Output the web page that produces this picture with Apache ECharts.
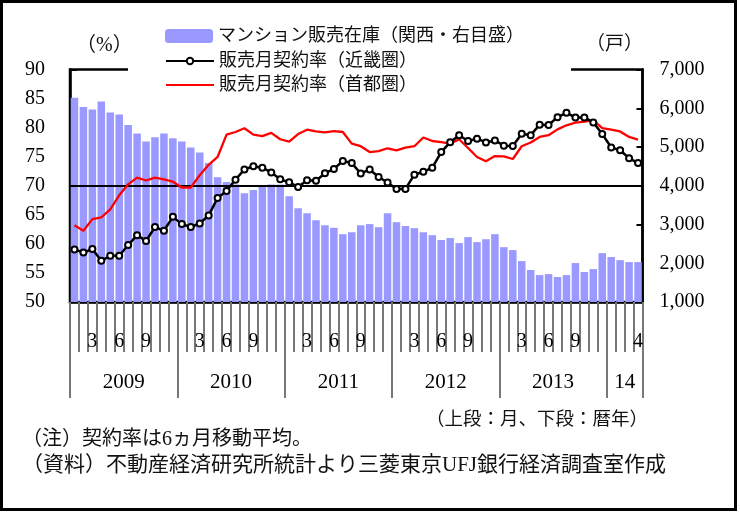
<!DOCTYPE html>
<html><head><meta charset="utf-8">
<script src="https://cdn.jsdelivr.net/npm/echarts@6/dist/echarts.min.js"></script>
<style>html,body{margin:0;padding:0;background:#fff}#c{width:740px;height:512px}</style>
</head><body><div id="c"></div>
<script>
const categories = [
 '2009/1','2009/2','2009/3','2009/4','2009/5','2009/6','2009/7','2009/8','2009/9','2009/10','2009/11','2009/12',
 '2010/1','2010/2','2010/3','2010/4','2010/5','2010/6','2010/7','2010/8','2010/9','2010/10','2010/11','2010/12',
 '2011/1','2011/2','2011/3','2011/4','2011/5','2011/6','2011/7','2011/8','2011/9','2011/10','2011/11','2011/12',
 '2012/1','2012/2','2012/3','2012/4','2012/5','2012/6','2012/7','2012/8','2012/9','2012/10','2012/11','2012/12',
 '2013/1','2013/2','2013/3','2013/4','2013/5','2013/6','2013/7','2013/8','2013/9','2013/10','2013/11','2013/12',
 '2014/1','2014/2','2014/3','2014/4'];
const monthTickLabels = ['3','6','9'];
const yearLabels = ['2009','2010','2011','2012','2013','14'];
const seriesNames = ['マンション販売在庫（関西・右目盛）','販売月契約率（近畿圏）','販売月契約率（首都圏）'];
const inventoryKansai = [
 6270,6030,5970,6175,5890,5840,5565,5350,5145,5250,5350,5225,
 5145,4990,4860,4590,4220,4100,4030,3805,3890,4020,4030,4030,
 3730,3420,3290,3110,2980,2915,2750,2800,2980,3010,2930,3290,
 3060,2960,2905,2800,2725,2600,2650,2520,2675,2545,2620,2750,
 2415,2340,2055,1825,1695,1720,1645,1695,2005,1775,1850,2260,
 2160,2080,2030,2030];
const rateKinki = [
 59.05,58.5,59.1,57.1,57.95,57.95,59.8,61.5,60.5,62.9,62.25,64.65,
 63.4,62.9,63.5,64.9,67.9,69.1,71.05,72.8,73.35,73.1,72.3,71.1,
 70.6,69.8,70.95,70.85,72.15,72.9,74.25,73.9,72.1,72.8,71.5,70.55,
 69.45,69.45,71.9,72.4,73.1,75.8,77.5,78.7,77.7,78.1,77.45,77.8,
 76.9,76.85,78.95,78.7,80.5,80.45,81.8,82.55,81.75,81.75,80.9,78.9,
 76.6,76.1,74.75,73.9];
const rateShutoken = [
 63.2,62.25,64.25,64.55,65.95,68.35,70.25,71.4,70.9,71.4,71.1,70.7,
 69.7,69.7,71.8,73.6,74.95,78.8,79.25,79.9,78.8,78.55,79.1,78.0,
 77.6,78.9,79.65,79.35,79.2,79.4,79.25,77.25,76.8,75.8,75.95,76.45,
 76.1,76.55,76.8,78.3,77.7,77.5,77.25,78.0,76.5,74.95,74.2,75.1,
 75.05,74.6,76.8,77.45,78.4,78.7,79.7,80.4,80.85,81.05,81.25,79.9,
 79.65,79.35,78.4,77.95];
const referenceLine = 70;
const unitLeft = '（%）';
const unitRight = '（戸）';
const noteRange = '（上段：月、下段：暦年）';
const note1 = '（注）契約率は6ヵ月移動平均。';
const note2 = '（資料）不動産経済研究所統計より三菱東京UFJ銀行経済調査室作成';

const FF = "'Liberation Serif','Noto Sans CJK JP',serif";
const chart = echarts.init(document.getElementById('c'), null, {renderer:'canvas'});
const lastIdx = categories.length - 1;
const lastYear = categories[lastIdx].split('/')[0];
function monthOf(c){ return c.split('/')[1]; }
function yearOf(c){ return c.split('/')[0]; }
function yearIdxLabel(i){
  const y = Math.floor(i/12);
  const yearStart = y*12;
  const yearEnd = Math.min(yearStart+11, lastIdx);
  const mid = Math.floor((yearStart+yearEnd)/2);
  return i === mid ? y : -1;
}
const legendText = {fontFamily:FF, fontSize:18, lineHeight:18, color:'#111'};
chart.setOption({
  animation:false,
  backgroundColor:'#fff',
  grid:{left:70, right:97.5, top:69.5, bottom:210, show:true, borderColor:'#000', borderWidth:2.5, backgroundColor:'transparent'},
  legend:[
    {data:[seriesNames[0]], orient:'vertical', left:128, top:21,
     padding:[6,46,6,37], itemWidth:48, itemHeight:14, itemTextGap:5,
     backgroundColor:'#fff', selectedMode:false, textStyle:legendText},
    {data:[seriesNames[1], {name:seriesNames[2], itemStyle:{opacity:0}}], orient:'vertical', left:128, top:51,
     padding:[1,154,1,37], itemWidth:48, itemHeight:8, itemGap:6, itemTextGap:5,
     backgroundColor:'#fff', selectedMode:false, textStyle:legendText}
  ],
  xAxis:[
    {type:'category', data:categories, boundaryGap:true, gridIndex:0, position:'bottom',
     axisLine:{show:true, lineStyle:{color:'#000', width:2.5}},
     axisTick:{show:true, interval:0, length:50, lineStyle:{color:'#777', width:2}},
     axisLabel:{interval:0, margin:30, fontFamily:FF, fontSize:20, color:'#000',
       formatter:function(v, i){
         const m = monthOf(v);
         if (yearOf(v) === lastYear) return i === lastIdx ? m : '';
         return monthTickLabels.indexOf(m) >= 0 ? m : '';
       }},
     splitLine:{show:false}},
    {type:'category', data:categories, boundaryGap:true, gridIndex:0, position:'bottom',
     axisLine:{show:false},
     axisTick:{show:true, length:96, lineStyle:{color:'#777', width:2}, interval:function(i){ return i%12===0; }},
     axisLabel:{margin:70, fontFamily:FF, fontSize:21, color:'#000', padding:[0,0,0,9],
       interval:function(i){ return yearIdxLabel(i)>=0; },
       formatter:function(v, i){ const y = yearIdxLabel(i); return y>=0 ? yearLabels[y] : ''; }},
     splitLine:{show:false}}
  ],
  yAxis:[
    {type:'value', min:50, max:90, interval:5, position:'left',
     axisLine:{show:true, lineStyle:{color:'#000', width:2.5}},
     axisTick:{show:true, inside:true, length:7, lineStyle:{color:'#000', width:2}},
     axisLabel:{margin:25, fontFamily:FF, fontSize:20, color:'#000'},
     splitLine:{show:false}},
    {type:'value', min:1000, max:7000, interval:1000, position:'right',
     axisLine:{show:true, lineStyle:{color:'#000', width:2.5}},
     axisTick:{show:true, inside:true, length:6, lineStyle:{color:'#000', width:2}},
     axisLabel:{margin:17, fontFamily:FF, fontSize:20, color:'#000',
       formatter:function(v){ return v.toLocaleString('en-US'); }},
     splitLine:{show:false}}
  ],
  series:[
    {name:seriesNames[0], type:'bar', xAxisIndex:0, yAxisIndex:1, data:inventoryKansai,
     barCategoryGap:'16%', itemStyle:{color:'#9999ff'}, z:2},
    {name:seriesNames[2], type:'line', xAxisIndex:0, yAxisIndex:0, data:rateShutoken,
     showSymbol:false, symbol:'none', lineStyle:{color:'#ff0000', width:2.3}, itemStyle:{color:'#ff0000'}, z:4},
    {name:seriesNames[1], type:'line', xAxisIndex:0, yAxisIndex:0, data:rateKinki,
     symbol:'circle', symbolSize:6, lineStyle:{color:'#000', width:2.5},
     itemStyle:{color:'#fff', borderColor:'#000', borderWidth:2}, z:5,
     markLine:{silent:true, symbol:'none', label:{show:false}, lineStyle:{color:'#000', width:2, type:'solid'},
       data:[{yAxis:referenceLine}], z:3}}
  ],
  graphic:[
    {type:'rect', shape:{x:1.5, y:1.5, width:734, height:508}, style:{fill:'none', stroke:'#000', lineWidth:3}, silent:true},
    {type:'text', left:76, top:36, style:{text:unitLeft, font:"20px "+FF, fill:'#111'}},
    {type:'text', left:586, top:36, style:{text:unitRight, font:"19px "+FF, fill:'#111'}},
    {type:'text', left:426, top:411, style:{text:noteRange, font:"18.5px "+FF, fill:'#111'}},
    {type:'text', left:22, top:430, style:{text:note1, font:"20px "+FF, fill:'#111'}},
    {type:'text', left:22, top:455, style:{text:note2, font:"21px "+FF, fill:'#111'}}
  ]
});
</script></body></html>
